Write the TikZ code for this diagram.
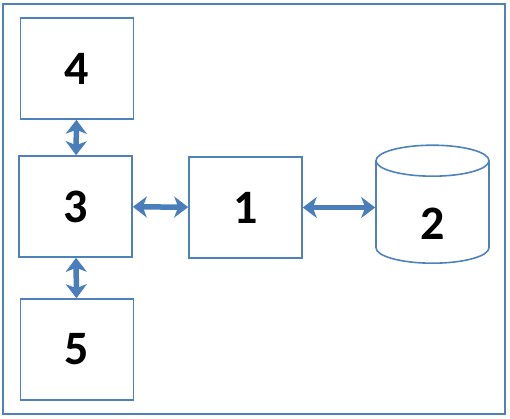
\documentclass[tikz,border=0pt]{standalone}
\usepackage{fontspec}
\setmainfont{Carlito}
\usetikzlibrary{arrows.meta,shapes.geometric}
\definecolor{boxblue}{HTML}{4F81BD}
\definecolor{arrowblue}{HTML}{4A7EBB}

\begin{document}
\begin{tikzpicture}[x=1pt, y=-1pt,
  box/.style={rectangle, draw=boxblue, line width=1.6pt, minimum width=113pt, minimum height=101pt, font=\fontsize{48}{48}\selectfont\bfseries},
  store/.style={cylinder, shape border rotate=90, aspect=1.0, draw=boxblue, line width=1.6pt, minimum width=113pt, minimum height=118pt, text height=50pt, text depth=0pt, font=\fontsize{48}{48}\selectfont\bfseries},
  link/.style={{Stealth[length=14pt,width=21pt,inset=4pt]}-{Stealth[length=14pt,width=21pt,inset=4pt]}, draw=arrowblue, line width=5.5pt}]
  \useasboundingbox (0,0) rectangle (510,419);
  % Frame
  \draw[boxblue, line width=1.6pt] (3,4) rectangle (505,414);

  % Nodes
  \node[box] (B4) at (77,68.5) {4};
  \node[box] (B3) at (75.5,206.5) {3};
  \node[box] (B5) at (77,349.5) {5};
  \node[box] (B1) at (245.5,207.5) {1};
  \node[store, anchor=bottom] (B2) at (432.5,264) {2};

  % Links
  \draw[link] (B4) -- (B3);
  \draw[link] (B3) -- (B5);
  \draw[link] (B3) -- (B1);
  \draw[link] (B1.east) -- (B1.east -| B2.west);
\end{tikzpicture}
\end{document}
